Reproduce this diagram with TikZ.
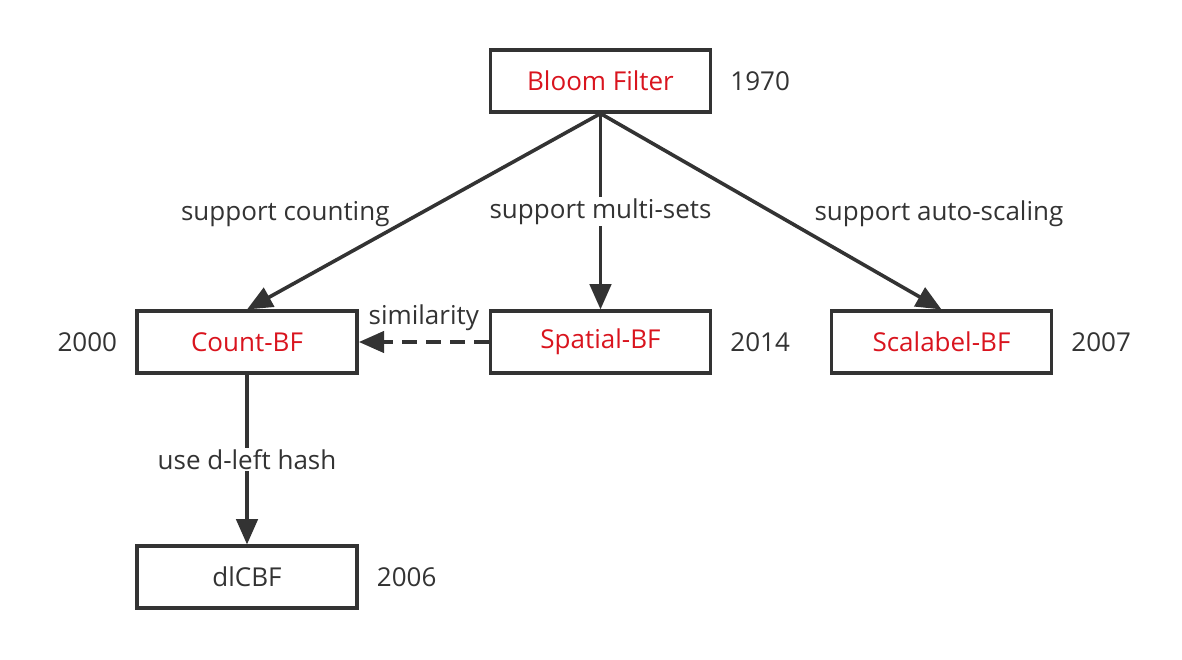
\documentclass[tikz,border=0pt]{standalone}
\usepackage{fontspec}
\setmainfont{Open Sans}
\usepackage{tikz}
\usetikzlibrary{arrows.meta}
\usetikzlibrary{positioning}
\definecolor{ink}{HTML}{333333}
\definecolor{bfred}{HTML}{D9141E}
\tikzset{box/.style={draw=ink,line width=2.8pt,minimum width=165pt,minimum height=46pt,inner sep=0pt,text=bfred,font=\fontsize{19.5}{19.5}\selectfont}}
\tikzset{yr/.style={text=ink,font=\fontsize{19.5}{19.5}\selectfont}}
\tikzset{l/.style={text=ink,font=\fontsize{19.5}{19.5}\selectfont}}
\tikzset{arr/.style={draw=ink,line width=2.7pt,-{Triangle[length=19pt,width=16pt]}}}

\begin{document}
\begin{tikzpicture}[x=0.75pt,y=-0.75pt]
          \useasboundingbox (0,0) rectangle (1182,660);
          \node[box] (BF) at (600.5,81) {Bloom Filter};
          \node[box] (CBF) at (247,342) {Count-BF};
          \node[box] (SBF) at (600.5,342) {Spatial-BF};
          \node[box] (SCBF) at (941.5,342) {Scalabel-BF};
          \node[box,text=ink] (DL) at (247,577) {dlCBF};
          \node[yr, right=10pt of BF] {1970};
          \node[yr, left=10pt of CBF] {2000};
          \node[yr, right=10pt of SBF] {2014};
          \node[yr, right=10pt of SCBF] {2007};
          \node[yr, right=10pt of DL] {2006};
          \draw[arr] (BF.south) -- node [l, left=21pt, yshift=-2pt] {support counting} (CBF.north);
          \draw[arr] (BF.south) -- node [l, fill=white, inner sep=1pt] {support multi-sets} (SBF.north);
          \draw[arr] (BF.south) -- node [l, right=28pt, yshift=-2pt] {support auto-scaling} (SCBF.north);
          \draw[arr] (CBF.south) -- node [l, fill=white, inner sep=1pt] {use d-left hash} (DL.north);
          \draw[arr, dashed, dash pattern=on 11pt off 7pt] (SBF.west) -- node [l, above=4pt] {similarity} (CBF.east);
        \end{tikzpicture}
\end{document}
